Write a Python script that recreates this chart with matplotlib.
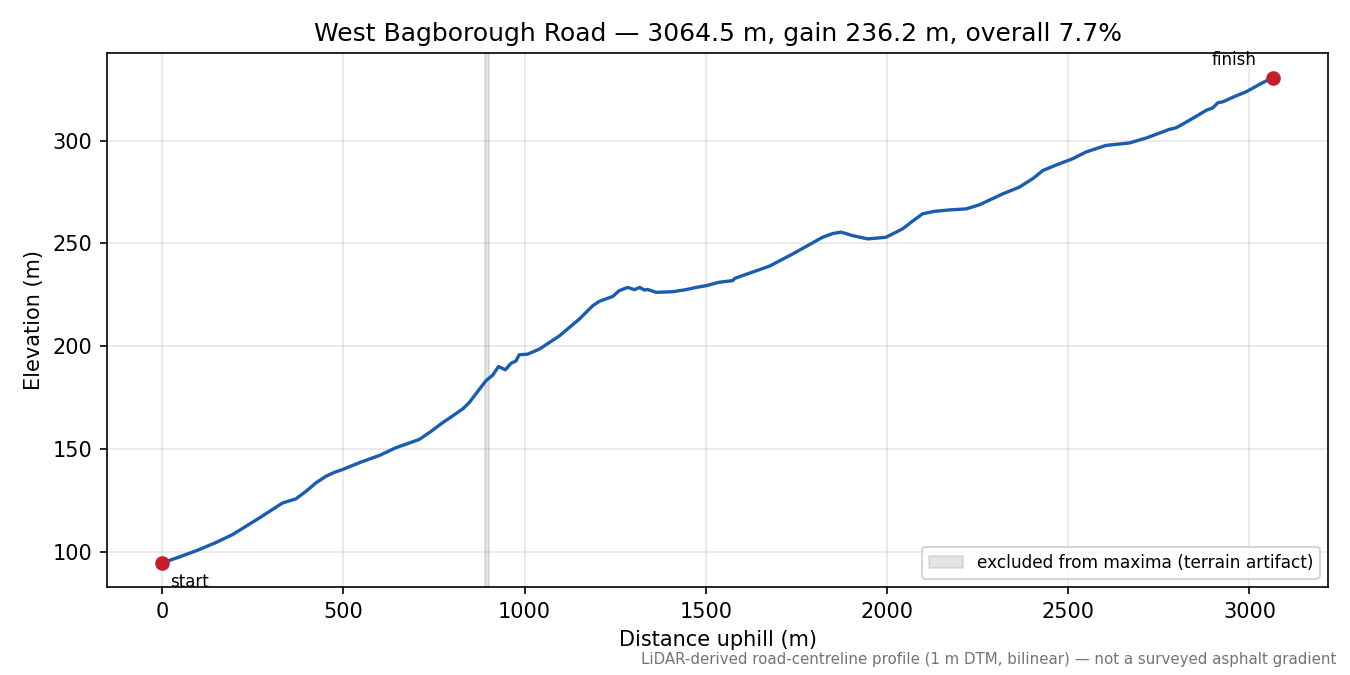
#!/usr/bin/env python3

import matplotlib
matplotlib.use("Agg")
import matplotlib.pyplot as plt

# Profile (distance uphill m, elevation m)
distance = [0, 50, 102, 150, 194, 268, 332, 369, 397, 425, 452, 475, 498, 544,
            599, 645, 709, 740, 774, 801, 830, 847, 875, 893, 912, 928, 947,
            962, 976, 985, 1008, 1040, 1096, 1151, 1188, 1206, 1243, 1261,
            1284, 1303, 1318, 1330, 1339, 1363, 1408, 1445, 1473, 1500, 1537,
            1574, 1580, 1620, 1675, 1740, 1822, 1850, 1873, 1905, 1947, 1997,
            2043, 2070, 2098, 2130, 2172, 2218, 2255, 2319, 2365, 2402, 2430,
            2470, 2512, 2549, 2604, 2669, 2715, 2779, 2798, 2834, 2881, 2899,
            2913, 2926, 2963, 2991, 3037, 3064.5]
elevation = [94.5, 97.6, 101.0, 104.6, 108.3, 116.4, 123.7, 125.7, 129.4,
             133.6, 136.7, 138.6, 140.0, 143.3, 146.8, 150.6, 154.6, 158.3,
             162.8, 166.0, 169.6, 172.5, 179.0, 183.1, 185.9, 190.1, 188.5,
             191.6, 192.8, 195.8, 196.1, 198.5, 205.0, 213.2, 219.7, 221.8,
             224.2, 227.0, 228.6, 227.5, 228.6, 227.3, 227.6, 226.2, 226.5,
             227.5, 228.6, 229.4, 231.1, 231.9, 233.0, 235.5, 238.9, 244.9,
             253.0, 254.8, 255.5, 253.8, 252.2, 253.0, 257.1, 260.8, 264.4,
             265.6, 266.3, 266.8, 268.8, 274.1, 277.4, 281.5, 285.5, 288.4,
             291.2, 294.5, 297.7, 298.9, 301.3, 305.5, 306.3, 309.9, 314.8,
             316.0, 318.5, 318.9, 321.8, 323.8, 328.3, 330.7]

excluded = (891, 901)
road = "West Bagborough Road"
total_len = 3064.5
gain = 236.2
overall = 7.7

fig, ax = plt.subplots(figsize=(9, 4.5), dpi=150)
fig.subplots_adjust(left=0.079, right=0.984, top=0.921, bottom=0.130)

ax.axvspan(excluded[0], excluded[1], color='0.6', alpha=0.25,
           label='excluded from maxima (terrain artifact)')
ax.plot(distance, elevation, color='#1a5cb0', linewidth=1.6)

ax.plot(distance[0], elevation[0], 'o', color='#c41e2a', markersize=6, zorder=5)
ax.plot(distance[-1], elevation[-1], 'o', color='#c41e2a', markersize=6, zorder=5)
ax.annotate('start', (distance[0], elevation[0]), xytext=(4, -5),
            textcoords='offset points', ha='left', va='top', fontsize=8)
ax.annotate('finish', (distance[-1], elevation[-1]), xytext=(-8, 4),
            textcoords='offset points', ha='right', va='bottom', fontsize=8)

ax.grid(True, alpha=0.3)
ax.set_xlabel('Distance uphill (m)')
ax.set_ylabel('Elevation (m)')
ax.set_title(f'{road} \u2014 {total_len} m, gain {gain} m, overall {overall}%')
ax.legend(loc='lower right', fontsize=8.2)

fig.text(0.99, 0.012, 'LiDAR-derived road-centreline profile (1 m DTM, bilinear) '
         '\u2014 not a surveyed asphalt gradient',
         ha='right', va='bottom', fontsize=7.2, color='0.45')

fig.savefig('out.png', dpi=150)
